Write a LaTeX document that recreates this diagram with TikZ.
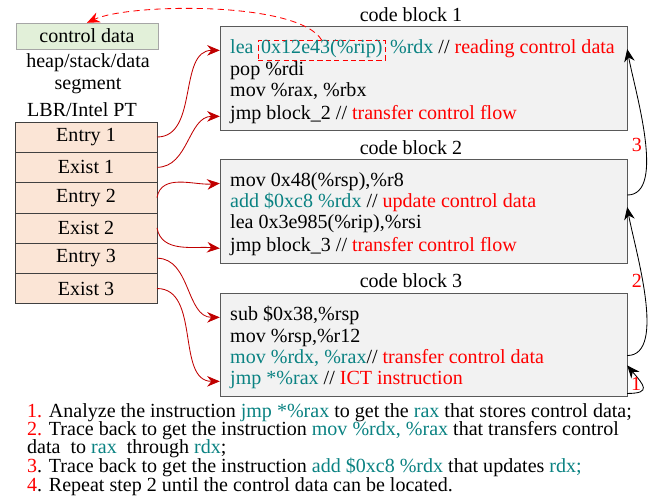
\documentclass[tikz,border=0pt]{standalone}
\usepackage{fontspec}
\setmainfont{Liberation Serif}
\usetikzlibrary{positioning,arrows.meta}

\definecolor{codeteal}{RGB}{10,130,130}
\definecolor{arrowred}{RGB}{192,0,0}
\definecolor{blockgray}{RGB}{242,242,242}
\definecolor{rowpeach}{RGB}{251,229,214}
\definecolor{datagreen}{RGB}{226,240,217}
\newcommand{\instr}[1]{\textcolor{codeteal}{#1}}
\newcommand{\cmt}[1]{\textcolor{red}{#1}}

\begin{document}
\begin{tikzpicture}[>=Stealth,
    font=\fontsize{19}{20}\selectfont,
    row/.style={draw=black!75, fill=rowpeach, minimum width=4.733cm, minimum height=1.01cm, inner sep=0pt, outer sep=0pt},
    block/.style={draw=black!65, fill=blockgray, minimum width=13.567cm, minimum height=3.45cm},
    asm/.style={anchor=base west, inner sep=0pt, text height=1.6ex, text depth=0.5ex},
    note/.style={anchor=base west, inner sep=0pt, text height=1.5ex, text depth=0.3ex},
    flow/.style={arrowred, line width=0.8pt, -{Stealth[length=12pt,width=10pt]}},
    back/.style={line width=0.8pt, -{Stealth[length=12pt,width=10pt]}},
    lab/.style={text=red, inner sep=1pt}]
    \useasboundingbox (0,0) rectangle (21.8,-16.667);

    % memory side
    \node[draw=black!35, fill=datagreen, minimum width=4.733cm, minimum height=0.867cm] (ctrl) at (2.9,-1.2) {control data};
    \node[align=center, font=\fontsize{19}{21}\selectfont] (seg) at (2.933,-2.467) {heap/stack/data\\segment};
    \node (lbr) at (2.733,-3.667) {LBR/Intel PT};
    \node[row] (e1) at (2.867,-4.567) {Entry 1};
    \node[row, below=0pt of e1] (x1) {Exist 1};
    \node[row, below=0pt of x1] (e2) {Entry 2};
    \node[row, below=0pt of e2] (x2) {Exist 2};
    \node[row, below=0pt of x2] (e3) {Entry 3};
    \node[row, below=0pt of e3] (x3) {Exist 3};

    % code blocks
    \node[block] (b1) at (14.117,-2.6) {};
    \node[block] (b2) at (14.117,-7.033) {};
    \node[block] (b3) at (14.117,-11.483) {};
    \node (t1) at (13.7,-0.5) {code block 1};
    \node (t2) at (13.7,-4.933) {code block 2};
    \node (t3) at (13.7,-9.367) {code block 3};

    \node[asm] (l11) at (7.667,-1.767) {\instr{lea}};
    \node[draw=red, dash pattern=on 5pt off 3pt, line width=0.8pt, inner xsep=0.1cm, inner ysep=0.15cm, text height=1.6ex, text depth=0.5ex, right=0.133cm of l11] (dbox) {\instr{0x12e43(\%rip)}};
    \node[inner sep=0pt, text height=1.6ex, text depth=0.5ex, right=0.133cm of dbox] (l11r) {\instr{\%rdx} // \cmt{reading control data}};
    \node[asm] (l12) at (7.667,-2.5) {pop \%rdi};
    \node[asm] (l13) at (7.667,-3.233) {mov \%rax, \%rbx};
    \node[asm] (l14) at (7.667,-3.967) {jmp block\_2 // \cmt{transfer control flow}};

    \node[asm] (l21) at (7.667,-6.2) {mov 0x48(\%rsp),\%r8};
    \node[asm] (l22) at (7.667,-6.933) {\instr{add \$0xc8 \%rdx} // \cmt{update control data}};
    \node[asm] (l23) at (7.667,-7.633) {lea 0x3e985(\%rip),\%rsi};
    \node[asm] (l24) at (7.667,-8.367) {jmp block\_3 // \cmt{transfer control flow}};

    \node[asm] (l31) at (7.667,-10.667) {sub \$0x38,\%rsp};
    \node[asm] (l32) at (7.667,-11.4) {mov \%rsp,\%r12};
    \node[asm] (l33) at (7.667,-12.1) {\instr{mov \%rdx, \%rax}// \cmt{transfer control data}};
    \node[asm] (l34) at (7.667,-12.8) {\instr{jmp *\%rax} // \cmt{ICT instruction}};

    % trace edges
    \draw[flow] (e1.east) to[out=0, in=180] (b1.west |- l11);
    \draw[flow] (x1.east) to[out=0, in=180] (b1.west |- l14);
    \draw[flow] (e2.east) to[out=80, in=185] (b2.west |- l21);
    \draw[flow] (x2.east) to[out=-80, in=175] (b2.west |- l24);
    \draw[flow] (e3.east) to[out=0, in=180] (b3.west |- l31);
    \draw[flow] (x3.east) to[out=0, in=180] (b3.west |- l34);

    \draw[red, line width=0.8pt, dash pattern=on 6pt off 4pt, -{Stealth[length=12pt,width=10pt]}] (dbox.north) to[out=120, in=25, looseness=0.5] (ctrl.north);

    % backward slicing
    \draw[back] ([yshift=0.1cm]b3.south east) to[out=0, in=-50, looseness=2.3] ([yshift=-2.43cm]b3.north east);
    \draw[back] ([yshift=-2.1cm]b3.north east) to[out=0, in=-80, looseness=0.7] ([yshift=-1.6cm]b2.north east);
    \draw[back] ([yshift=-1.2cm]b2.north east) to[out=0, in=-80, looseness=0.7] ([yshift=-0.767cm]b1.north east);
    \node[lab] (s1) at (21.2,-12.8) {1};
    \node[lab] (s2) at (21.233,-9.367) {2};
    \node[lab] (s3) at (21.233,-4.833) {3};

    % notes
    \node[note] (n1) at (0.9,-13.9) {\cmt{1.} Analyze the instruction \instr{jmp *\%rax} to get the \instr{rax} that stores control data;};
    \node[note] (n2) at (0.9,-14.517) {\cmt{2.} Trace back to get the instruction \instr{mov \%rdx, \%rax} that transfers control};
    \node[note] (n3) at (0.9,-15.133) {data\ \ to \instr{rax}\ \ through \instr{rdx};};
    \node[note] (n4) at (0.9,-15.75) {\cmt{3}. Trace back to get the instruction \instr{add \$0xc8 \%rdx} that updates \instr{rdx;}};
    \node[note] (n5) at (0.9,-16.367) {\cmt{4}. Repeat step 2 until the control data can be located.};
\end{tikzpicture}
\end{document}
